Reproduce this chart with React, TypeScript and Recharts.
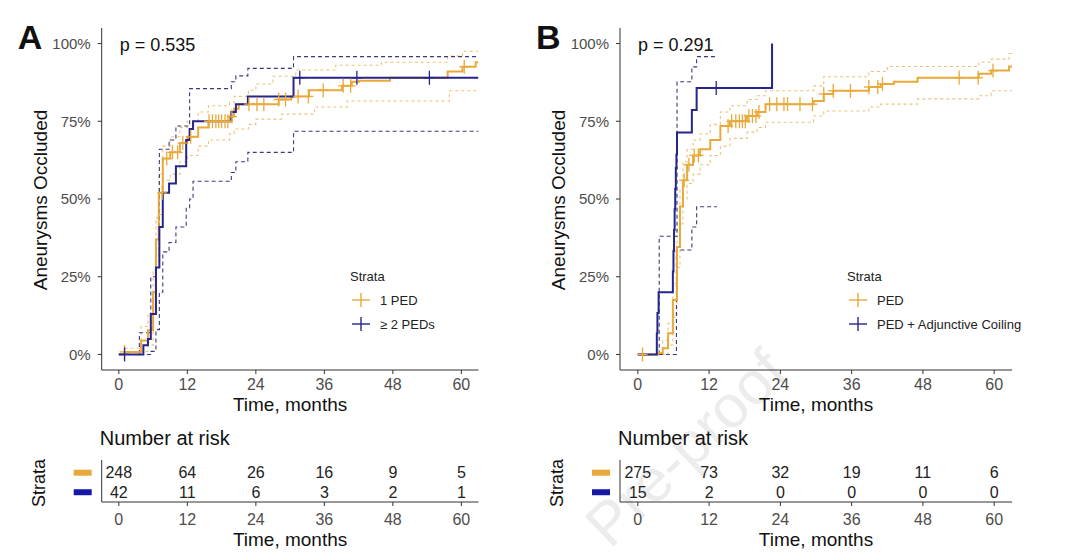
import { ComposedChart, Line, Scatter, XAxis, YAxis } from "recharts";

type Pt = [number, number];

const FONT = '"Liberation Sans", Arial, Helvetica, sans-serif';
const ORANGE = "#E9A93A";
const ORANGE_CI = "#EBC27A";
const BLUE = "#25258C";
const BLUE_CI = "#3B3B7C";
const ORANGE_SW = "#E8A83A";
const BLUE_SW = "#1818A8";

const timeTicks = [0, 12, 24, 36, 48, 60];
const pctTicks = [0, 25, 50, 75, 100];

// ---- Panel A: 1 PED vs >= 2 PEDs (time in months, % occluded)
const aPed: Pt[] = [[0, 0], [1, 0.8], [3.9, 4.5], [5.1, 7.8], [6.0, 20], [6.5, 37], [7.0, 52], [7.7, 63], [9.0, 65], [10.7, 68], [12.0, 70], [13.9, 73], [15.7, 75], [19.4, 76.5], [20.2, 79], [21, 80.5], [28, 82], [30.2, 83], [33.3, 85], [39.1, 86.4], [40.8, 87.7], [42.1, 88], [47.5, 89], [57.6, 91], [60.2, 92.5], [62.5, 94], [63, 94]];
const aPedHi: Pt[] = [[0, 0], [1, 2], [3.9, 9], [5.1, 13], [6.0, 27], [6.5, 44], [7.0, 58], [7.7, 67], [9.0, 70], [10.7, 73], [12.0, 75], [13.9, 78], [15.7, 80], [19.4, 81], [20.2, 83], [22.7, 85], [24, 87], [27, 89.5], [31, 91.5], [38, 93], [46, 94], [57.6, 96], [60.2, 97.5], [63, 97.5]];
const aPedLo: Pt[] = [[0, 0], [3.9, 1], [5.1, 3], [6.0, 13], [6.5, 30], [7.0, 45], [7.7, 56], [9.0, 58], [10.7, 62], [12.0, 64], [13.9, 67], [15.7, 69], [19.4, 71], [20.2, 72.5], [22.7, 74], [24, 75.7], [28.5, 77.3], [34.3, 79.6], [40, 81.5], [57.9, 84.8], [63, 84.8]];
const aMulti: Pt[] = [[0, 0], [4.3, 3], [5.1, 5], [5.6, 13], [6.5, 28], [7.1, 41], [7.7, 52], [8.8, 55], [10.0, 60.5], [11.8, 69], [12.4, 72.5], [13.0, 75], [19.7, 78], [20.5, 80.5], [22.6, 83], [30.6, 89], [63, 89]];
const aMultiHi: Pt[] = [[0, 0], [3.6, 7], [5.6, 25], [6.5, 37], [7.1, 66], [8.8, 69], [10.0, 73.5], [12.4, 85.5], [19.7, 87.7], [20.5, 89.6], [22.6, 92], [30.6, 95.8], [63, 95.8]];
const aMultiLo: Pt[] = [[0, 0], [5.6, 1], [6.5, 8], [7.1, 20], [7.7, 33], [8.8, 36], [10.0, 41], [11.8, 47], [12.4, 50], [13.0, 55.7], [19.7, 58.5], [20.5, 62], [22.6, 65], [30.6, 71.8], [63, 71.8]];
const aPedCensor = [1, 7.6, 8.4, 9.4, 10.3, 11.2, 12.6, 15.8, 16.4, 17, 17.5, 18, 18.6, 19.1, 19.8, 22.8, 24.2, 25.4, 28, 29.2, 31.4, 33.2, 35.8, 39.3, 40.6, 60.5];
const aMultiCensor = [1, 31.7, 41.7, 54.4];
const aRiskPed = [248, 64, 26, 16, 9, 5];
const aRiskMulti = [42, 11, 6, 3, 2, 1];

// ---- Panel B: PED vs PED + Adjunctive Coiling
const bPed: Pt[] = [[0, 0], [3.4, 0.5], [4.2, 2], [5.1, 6.8], [5.9, 17.5], [6.6, 34.6], [7.1, 47.6], [7.6, 56], [8.3, 61], [9.3, 64], [10.5, 66], [12.2, 69], [13.9, 73.5], [15.5, 75], [18.4, 76.7], [20.1, 78], [21.5, 80.5], [29.6, 81.5], [31.3, 83.8], [32.9, 84.8], [38.9, 86], [40.9, 87], [43.1, 87.7], [47.1, 89], [57.4, 90.3], [59.5, 91.3], [62.5, 92.6], [63, 92.6]];
const bPedHi: Pt[] = [[0, 0], [3.4, 1.5], [4.2, 4.5], [5.1, 10], [5.9, 23], [6.6, 41], [7.1, 53], [7.6, 62], [8.3, 66], [9.3, 69], [10.5, 71], [12.2, 74], [13.9, 78], [15.5, 80], [18.4, 82], [20.1, 83.2], [21.5, 84.8], [29.6, 86.4], [31.3, 89.3], [38.9, 91], [42, 92.6], [57.4, 94], [59.5, 95], [62.5, 96.8], [63, 96.8]];
const bPedLo: Pt[] = [[0, 0], [5.1, 3], [5.9, 12], [6.6, 28], [7.1, 42], [7.6, 50], [8.3, 55], [9.3, 58], [10.5, 61], [12.2, 64], [13.9, 67], [15.5, 69.5], [18.4, 71.5], [20.1, 73], [21.5, 74.7], [29.6, 76.7], [31.3, 78.3], [38.9, 79.6], [40.9, 80.5], [47.1, 82.2], [57.4, 83.2], [59.5, 84.8], [63, 84.8]];
const bCoil: Pt[] = [[0, 0], [3.2, 6.7], [3.3, 13.3], [3.5, 20], [5.9, 26.7], [6.0, 33.3], [6.1, 40], [6.2, 46.7], [6.3, 53.3], [6.4, 60], [6.5, 64.3], [6.6, 71.4], [9.1, 78.6], [9.9, 85.7], [22.6, 100]];
const bCoilHi: Pt[] = [[0, 0], [3.6, 38], [6.6, 87.7], [9.1, 92.5], [9.9, 95.8], [13.3, 95.8]];
const bCoilLo: Pt[] = [[0, 0], [6.5, 33.6], [9.1, 41], [9.9, 47.5], [13.3, 47.5]];
const bPedCensor = [0.8, 7.8, 8.6, 9.5, 10.2, 15.2, 15.8, 16.5, 17.1, 17.6, 18.1, 18.7, 19.3, 19.9, 20.4, 22.2, 23.4, 24.6, 25.2, 27.3, 29.4, 31.3, 32.9, 35.8, 38.9, 40.4, 41.2, 54.1, 57.3, 59.8];
const bCoilCensor = [13.2];
const bRiskPed = [275, 73, 32, 19, 11, 6];
const bRiskCoil = [15, 2, 0, 0, 0, 0];

const stepAt = (pts: Pt[], t: number) => {
  let v = pts[0][1];
  for (const [pt, pv] of pts) if (pt <= t) v = pv;
  return v;
};
const rows = (pts: Pt[]) => pts.map(([t, v]) => ({ t, v }));
const censorRows = (pts: Pt[], times: number[]) => times.map((t) => ({ t, v: stepAt(pts, t) }));

const cross = (color: string) => (props: any) => {
  const { cx, cy } = props;
  return (
    <g stroke={color} strokeWidth={1.3}>
      <line x1={cx - 5} x2={cx + 5} y1={cy} y2={cy} />
      <line x1={cx} x2={cx} y1={cy - 7} y2={cy + 7} />
    </g>
  );
};

const RiskText = (props: any) => (
  <text x={props.cx} y={props.cy} textAnchor="middle" dominantBaseline="central" fontSize={16} fill="#222" fontFamily={FONT}>
    {props.payload.n}
  </text>
);

const SwatchTick = (props: any) => {
  const { x, y, payload } = props;
  return <rect x={x - 18} y={y - 3} width={18} height={6} fill={payload.value === 2 ? ORANGE_SW : BLUE_SW} />;
};

const LegendCross = ({ color }: { color: string }) => (
  <svg width={20} height={16} style={{ display: "inline-block", verticalAlign: "middle" }}>
    <line x1={1} x2={19} y1={8} y2={8} stroke={color} strokeWidth={1.4} />
    <line x1={10} x2={10} y1={1} y2={15} stroke={color} strokeWidth={1.4} />
  </svg>
);

interface PanelProps {
  left: number;
  width: number;
  mLeft: number;
  mRight: number;
  letter: string;
  pText: string;
  labels: string[];
  g1: Pt[];
  g1Hi: Pt[];
  g1Lo: Pt[];
  g2: Pt[];
  g2Hi: Pt[];
  g2Lo: Pt[];
  c1: number[];
  c2: number[];
  r1: number[];
  r2: number[];
  legendX: number;
}

function Panel(p: PanelProps) {
  const plotLeft = p.left + p.mLeft + 60;
  const plotRight = p.left + p.width - p.mRight;
  const mid = (plotLeft + plotRight) / 2;
  const abs = (x: number, y: number, extra: any = {}) => ({ position: "absolute" as const, left: x, top: y, ...extra });
  const riskRows = [
    ...timeTicks.map((t, i) => ({ t, v: 2, n: p.r1[i] })),
    ...timeTicks.map((t, i) => ({ t, v: 1, n: p.r2[i] })),
  ];
  const ciLine = (pts: Pt[], color: string, key: string, dash: string) => (
    <Line key={key} data={rows(pts)} dataKey="v" type="stepAfter" stroke={color} strokeWidth={1.1} strokeDasharray={dash} dot={false} isAnimationActive={false} />
  );

  return (
    <>
      <div style={abs(p.left, 0)}>
        <ComposedChart width={p.width} height={420} margin={{ top: 28, right: p.mRight, bottom: 0, left: p.mLeft }}>
          <XAxis dataKey="t" type="number" domain={[-3, 63]} ticks={timeTicks} allowDataOverflow height={50} stroke="#333" tickSize={4} tickMargin={5} tick={{ fill: "#4D4D4D", fontSize: 16, fontFamily: FONT }} />
          <YAxis type="number" domain={[-5, 105]} ticks={pctTicks} allowDataOverflow width={60} stroke="#333" tickSize={4} tickMargin={7} tickFormatter={(v) => `${v}%`} tick={{ fill: "#4D4D4D", fontSize: 15, fontFamily: FONT }} />
          {ciLine(p.g1Hi, ORANGE_CI, "g1hi", "3 3")}
          {ciLine(p.g1Lo, ORANGE_CI, "g1lo", "3 3")}
          {ciLine(p.g2Hi, BLUE_CI, "g2hi", "4 3")}
          {ciLine(p.g2Lo, BLUE_CI, "g2lo", "4 3")}
          <Line data={rows(p.g1)} dataKey="v" type="stepAfter" stroke={ORANGE} strokeWidth={2} dot={false} isAnimationActive={false} />
          <Line data={rows(p.g2)} dataKey="v" type="stepAfter" stroke={BLUE} strokeWidth={2} dot={false} isAnimationActive={false} />
          <Scatter data={censorRows(p.g1, p.c1)} dataKey="v" shape={cross(ORANGE)} isAnimationActive={false} />
          <Scatter data={censorRows(p.g2, p.c2)} dataKey="v" shape={cross(BLUE)} isAnimationActive={false} />
        </ComposedChart>
      </div>
      <div style={abs(p.left, 420)}>
        <ComposedChart width={p.width} height={140} margin={{ top: 40, right: p.mRight, bottom: 0, left: p.mLeft }}>
          <XAxis dataKey="t" type="number" domain={[-3, 63]} ticks={timeTicks} allowDataOverflow height={58} stroke="#333" tickSize={4} tickMargin={8} tick={{ fill: "#4D4D4D", fontSize: 16, fontFamily: FONT }} />
          <YAxis type="number" domain={[0.5, 2.65]} ticks={[1, 2]} interval={0} width={60} stroke="#333" tickLine={false} tickSize={0} tickMargin={10} tick={<SwatchTick />} />
          <Scatter data={riskRows} dataKey="v" shape={<RiskText />} isAnimationActive={false} />
        </ComposedChart>
      </div>

      <div style={abs(plotLeft - 84, 18, { fontSize: 34, fontWeight: 700 })}>{p.letter}</div>
      <div style={abs(plotLeft + 18, 35, { fontSize: 18 })}>{p.pText}</div>
      <div style={abs(plotLeft - 61, 200, { fontSize: 19, transform: "translate(-50%, -50%) rotate(-90deg)", whiteSpace: "nowrap" })}>Aneurysms Occluded</div>
      <div style={abs(mid, 405, { fontSize: 19, transform: "translate(-50%, -50%)", whiteSpace: "nowrap" })}>Time, months</div>

      <div style={abs(p.legendX, 269, { fontSize: 13, color: "#222" })}>Strata</div>
      {p.labels.map((lab, i) => (
        <div key={lab} style={abs(p.legendX + 1, 292 + i * 24, { fontSize: 13, color: "#222", whiteSpace: "nowrap", display: "flex", alignItems: "center", gap: 9 })}>
          <LegendCross color={i === 0 ? ORANGE : BLUE} />
          <span>{lab}</span>
        </div>
      ))}

      <div style={abs(plotLeft - 2, 427, { fontSize: 20, whiteSpace: "nowrap" })}>Number at risk</div>
      <div style={abs(plotLeft - 63, 483, { fontSize: 18, transform: "translate(-50%, -50%) rotate(-90deg)" })}>Strata</div>
      <div style={abs(mid, 540, { fontSize: 19, transform: "translate(-50%, -50%)", whiteSpace: "nowrap" })}>Time, months</div>
    </>
  );
}

export default function App() {
  return (
    <div style={{ position: "absolute", left: 0, top: 0, width: 1080, height: 560, background: "#fff", fontFamily: FONT, color: "#111", overflow: "hidden" }}>
      {/* faint journal watermark behind everything */}
      <svg width={1080} height={560} style={{ position: "absolute", left: 0, top: 0 }}>
        <text x={790} y={376} textAnchor="end" fontSize={60} fill="#ececec" fontFamily={FONT} transform="rotate(-44 790 376)">Pre-proof</text>
      </svg>
      <Panel left={0} width={540} mLeft={41.7} mRight={61.5} letter="A" pText="p = 0.535" labels={["1 PED", "≥ 2 PEDs"]}
        g1={aPed} g1Hi={aPedHi} g1Lo={aPedLo} g2={aMulti} g2Hi={aMultiHi} g2Lo={aMultiLo}
        c1={aPedCensor} c2={aMultiCensor} r1={aRiskPed} r2={aRiskMulti} legendX={350} />
      <Panel left={520} width={560} mLeft={40} mRight={68} letter="B" pText="p = 0.291" labels={["PED", "PED + Adjunctive Coiling"]}
        g1={bPed} g1Hi={bPedHi} g1Lo={bPedLo} g2={bCoil} g2Hi={bCoilHi} g2Lo={bCoilLo}
        c1={bPedCensor} c2={bCoilCensor} r1={bRiskPed} r2={bRiskCoil} legendX={847} />
    </div>
  );
}
